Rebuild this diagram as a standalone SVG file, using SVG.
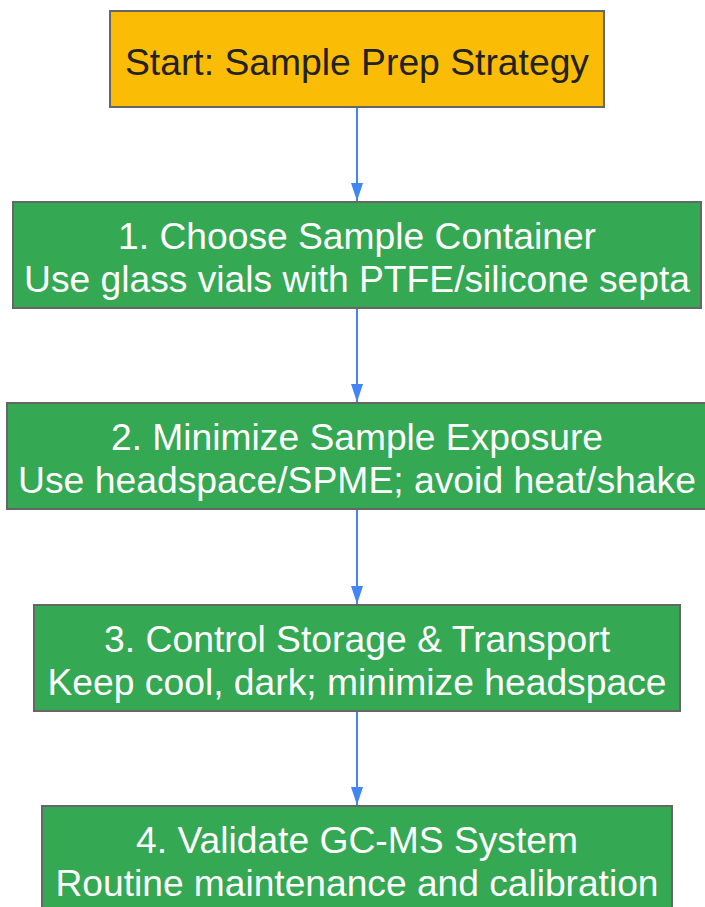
<svg xmlns="http://www.w3.org/2000/svg" width="705" height="907" viewBox="0 0 705 907">
<defs>
<style>
.box{stroke:#666666;stroke-width:2}
.start{fill:#FBBC05}
.step{fill:#34A853}
.t{font-family:"Liberation Sans",Arial,sans-serif;font-size:36px;text-anchor:middle}
.dark{fill:#222222}
.light{fill:#ffffff}
.edge{stroke:#4285F4;stroke-width:2;fill:none}
</style>
<marker id="ah" markerWidth="18" markerHeight="27" refX="27" refY="9" orient="auto" markerUnits="userSpaceOnUse" viewBox="0 0 27 18">
<path d="M0,0 L27,9 L0,18 Z" fill="#4285F4"/>
</marker>
</defs>
<g id="connectors">
<line class="edge" x1="357" y1="107" x2="357" y2="201" marker-end="url(#ah)"/>
<line class="edge" x1="357" y1="308" x2="357" y2="402" marker-end="url(#ah)"/>
<line class="edge" x1="357" y1="509" x2="357" y2="604" marker-end="url(#ah)"/>
<line class="edge" x1="357" y1="711" x2="357" y2="805" marker-end="url(#ah)"/>
</g>
<g id="start">
<rect class="box start" x="110" y="11" width="494" height="96"/>
<text class="t dark" x="357" y="75" textLength="464" lengthAdjust="spacingAndGlyphs">Start: Sample Prep Strategy</text>
</g>
<g id="step1">
<rect class="box step" x="13" y="202" width="688" height="106"/>
<text class="t light" x="357" y="249" textLength="478" lengthAdjust="spacingAndGlyphs">1. Choose Sample Container</text>
<text class="t light" x="357" y="292" textLength="666" lengthAdjust="spacingAndGlyphs">Use glass vials with PTFE/silicone septa</text>
</g>
<g id="step2">
<rect class="box step" x="7" y="403" width="700" height="106"/>
<text class="t light" x="357" y="450" textLength="492" lengthAdjust="spacingAndGlyphs">2. Minimize Sample Exposure</text>
<text class="t light" x="357" y="493" textLength="678" lengthAdjust="spacingAndGlyphs">Use headspace/SPME; avoid heat/shake</text>
</g>
<g id="step3">
<rect class="box step" x="34" y="605" width="646" height="106"/>
<text class="t light" x="357" y="652" textLength="506" lengthAdjust="spacingAndGlyphs">3. Control Storage &amp; Transport</text>
<text class="t light" x="357" y="695" textLength="619" lengthAdjust="spacingAndGlyphs">Keep cool, dark; minimize headspace</text>
</g>
<g id="step4">
<rect class="box step" x="42" y="806" width="630" height="110"/>
<text class="t light" x="357" y="853" textLength="442" lengthAdjust="spacingAndGlyphs">4. Validate GC-MS System</text>
<text class="t light" x="357" y="896" textLength="603" lengthAdjust="spacingAndGlyphs">Routine maintenance and calibration</text>
</g>
</svg>
